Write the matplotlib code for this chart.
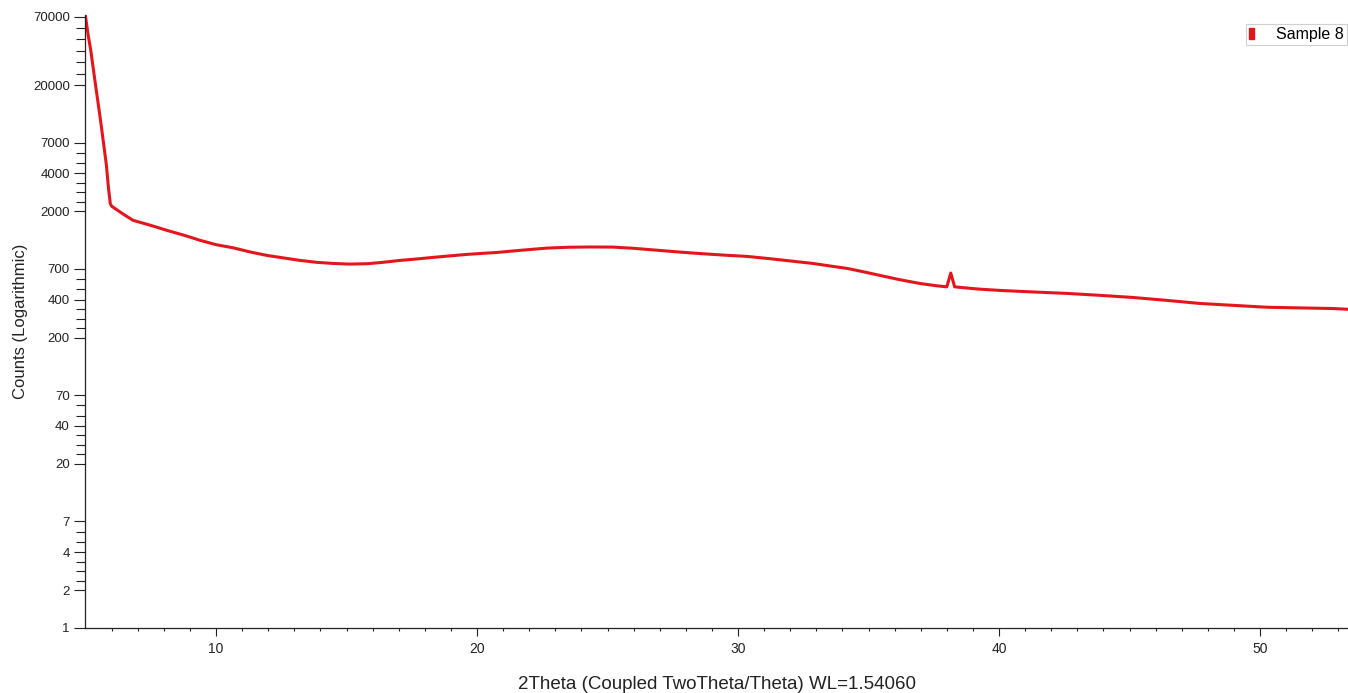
import numpy as np
import matplotlib
matplotlib.use("Agg")
import matplotlib.pyplot as plt
from matplotlib.patches import Patch

plt.rcParams['font.family'] = ['Liberation Sans', 'DejaVu Sans']

# values (2theta in degrees, counts)
two_theta = [5.0, 5.1, 5.2, 5.3, 5.4, 5.5, 5.6, 5.7, 5.8, 5.88, 5.95, 6.0,
             6.4, 6.82, 7.5, 8.12, 8.8, 9.39, 10.0, 10.65, 11.3, 11.95,
             12.6, 13.22, 13.85, 14.48, 15.1, 15.8, 16.4, 17.05, 17.7,
             18.31, 19.0, 19.62, 20.2, 20.77, 21.7, 22.68, 23.5, 24.3,
             25.21, 26.0, 26.9, 27.78, 28.6, 29.5, 30.34, 31.2, 32.0,
             32.87, 33.5, 34.18, 34.8, 35.44, 36.2, 36.97, 37.6, 38.0,
             38.15, 38.3, 39.2, 40.04, 41.3, 42.6, 43.9, 45.13, 46.4,
             47.7, 49.0, 50.27, 51.5, 52.8, 53.4]
counts = [70000, 50000, 37900, 26800, 19000, 13600, 9640, 6700, 4640, 3050,
          2300, 2200, 1930, 1700, 1550, 1415, 1290, 1180, 1090, 1030, 955,
          896, 855, 818, 790, 774, 765, 770, 790, 818, 840, 864, 890, 913,
          930, 946, 985, 1024, 1040, 1045, 1043, 1020, 985, 952, 925, 900,
          880, 845, 810, 774, 740, 707, 665, 622, 575, 537, 515, 505, 650,
          505, 485, 473, 460, 448, 432, 416, 395, 373, 360, 348, 344, 340,
          335]

y_labeled = [1, 2, 4, 7, 20, 40, 70, 200, 400, 700, 2000, 4000, 7000,
             20000, 70000]
x_labeled = [10, 20, 30, 40, 50]
series_name = "Sample 8"
RED = "#e5151c"

# minor y ticks: evenly spaced (log) between some labeled ticks
gaps = [(20, 40, 3), (40, 70, 2), (200, 400, 3), (400, 700, 2),
        (2000, 4000, 3), (4000, 7000, 2), (20000, 70000, 5), (2, 4, 3), (4, 7, 2)]
y_minor = []
for a, b, n in gaps:
    y_minor += list(np.logspace(np.log10(a), np.log10(b), n + 2)[1:-1])

fig = plt.figure(figsize=(13.48, 6.93), dpi=100)
ax = fig.add_axes([85 / 1348, 65 / 693, 1263 / 1348, 613 / 693])

ax.plot(two_theta, counts, color=RED, lw=2.2, solid_joinstyle="round")

ax.set_yscale("log")
ax.set_ylim(1, 72000)
ax.set_xlim(4.98, 53.37)

ax.set_yticks(y_labeled, labels=[str(v) for v in y_labeled])
ax.set_yticks(y_minor, minor=True)
ax.set_xticks(x_labeled, labels=[str(v) for v in x_labeled])
ax.set_xticks(range(6, 54), minor=True)

ax.tick_params(axis="y", which="major", length=8, width=0.8, labelsize=9.5, pad=3, colors="#222222")
ax.tick_params(axis="y", which="minor", length=6.5, width=0.8, colors="#222222")
ax.tick_params(axis="x", which="major", length=6, width=0.8, labelsize=10, pad=4, colors="#222222")
ax.tick_params(axis="x", which="minor", length=2.5, width=0.8, colors="#222222")

for s in ("top", "right"):
    ax.spines[s].set_visible(False)
for s in ("left", "bottom"):
    ax.spines[s].set_color("#222222")
    ax.spines[s].set_linewidth(0.9)

ax.set_xlabel("2Theta (Coupled TwoTheta/Theta) WL=1.54060", fontsize=13.5, color="#222222")
ax.xaxis.set_label_coords(0.5, -0.078)
ax.set_ylabel("Counts (Logarithmic)", fontsize=12, color="#222222")
ax.yaxis.set_label_coords(-0.045, 0.5)

handle = Patch(facecolor=RED, edgecolor=RED)
leg = ax.legend([handle], [series_name], loc="upper right", bbox_to_anchor=(0.9995, 0.986),
                borderaxespad=0, fancybox=False, fontsize=11.5, handlelength=0.3,
                handleheight=0.7, handletextpad=1.4, borderpad=0.2, framealpha=1)
leg.get_frame().set_edgecolor("#d0d0d0")
leg.get_frame().set_linewidth(0.8)

fig.savefig("out.png", dpi=100)
